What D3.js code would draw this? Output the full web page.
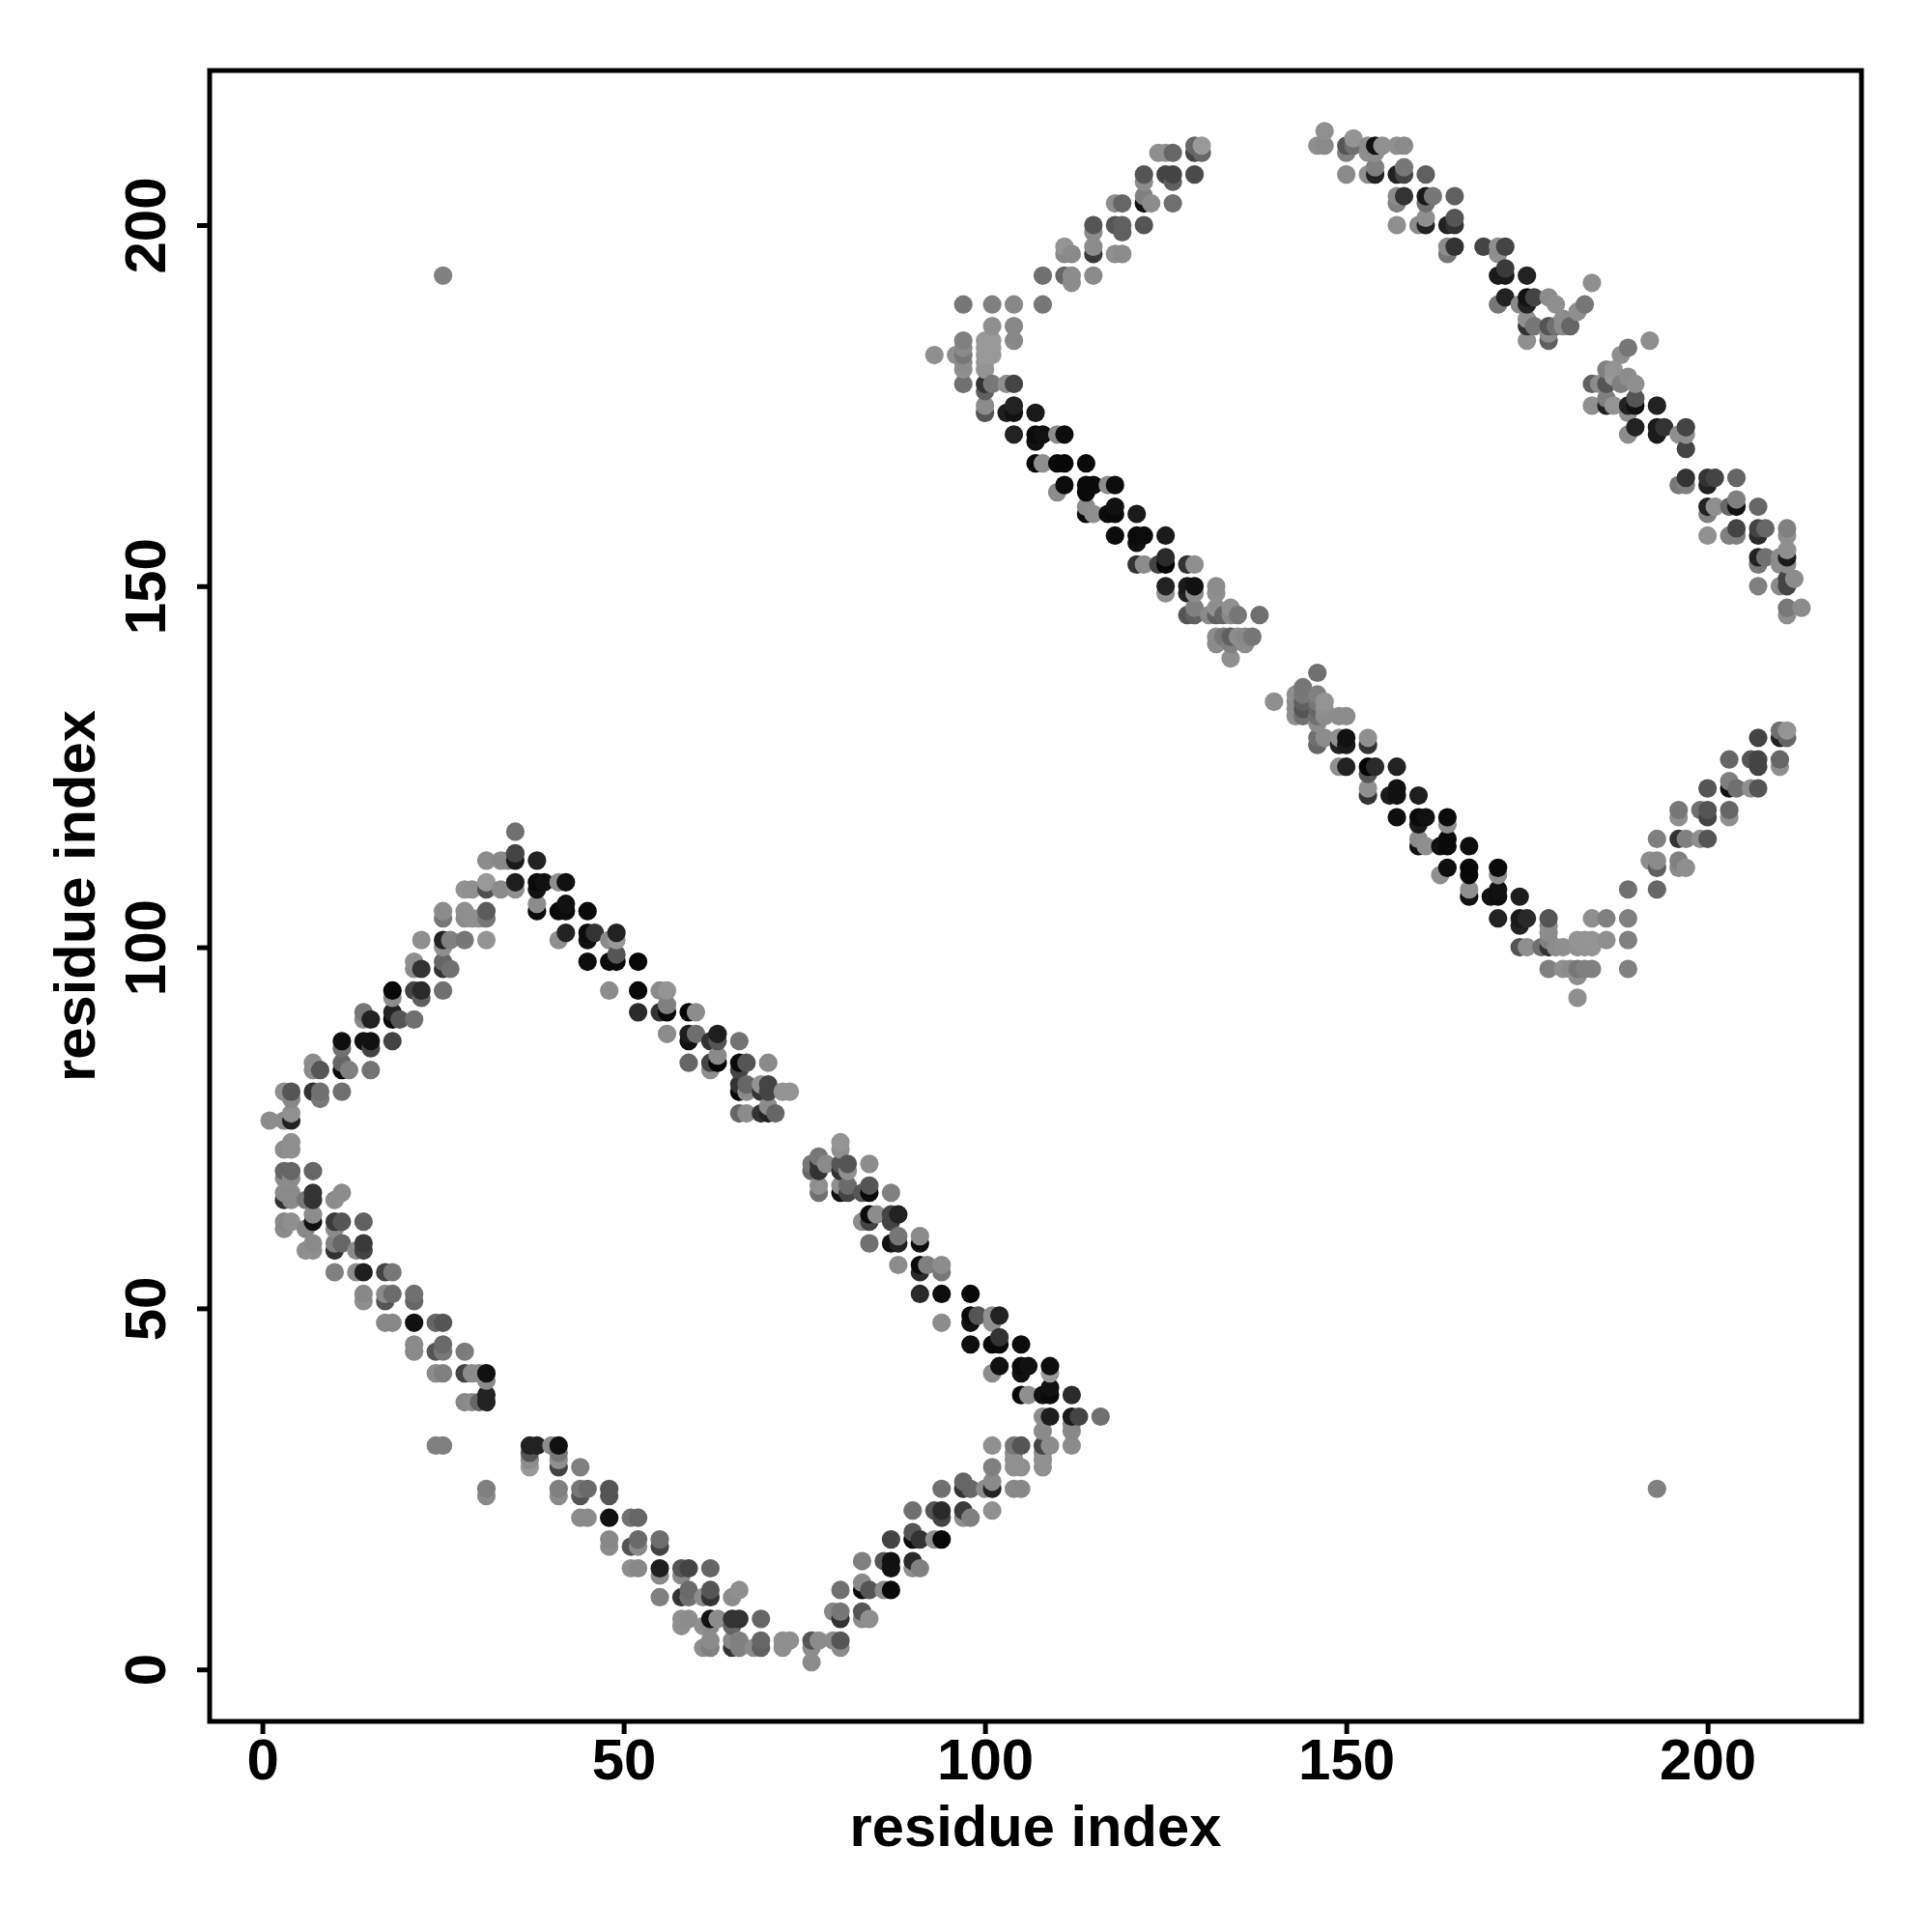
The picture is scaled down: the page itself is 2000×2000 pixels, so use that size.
<!DOCTYPE html>
<html><head><meta charset="utf-8">
<script src="https://cdn.jsdelivr.net/npm/d3@7/dist/d3.min.js"></script>
<style>html,body{margin:0;padding:0;background:#fff}svg{display:block}text{font-family:"Liberation Sans",Arial,sans-serif;font-weight:700;fill:#000}</style>
</head><body><svg id="c" width="2000" height="2000"></svg>
<script>
// each contact: [residue x, residue y, grey level 0-255]
const contactsLowerLeftTop = [[35,116,112],[35,113,68],[31,112,140],[33,112,136],[34,112,136],[35,112,26],[38,112,34],[35,109,30],[38,109,10],[39,109,17],[31,109,153],[28,108,147],[29,108,144],[31,108,80],[33,108,138],[35,108,143],[38,108,17],[25,105,140],[28,105,143],[31,105,92],[38,106,140],[38,105,10],[25,104,119],[28,104,140],[29,104,143],[30,104,143],[31,104,119],[22,101,143],[25,101,34],[26,101,128],[28,101,119],[31,101,147],[25,100,143],[21,98,143],[25,98,102],[21,97,138],[22,97,51],[25,97,51],[26,97,112],[18,94,8],[21,94,68],[22,94,42],[25,94,112],[18,93,140],[22,93,96],[14,91,119],[18,91,34],[14,90,138],[15,90,34],[18,90,8],[19,90,85],[21,90,112],[11,87,14],[14,87,17],[15,87,17],[18,87,68],[11,86,112],[15,86,68],[7,84,140],[11,84,102],[7,83,138],[8,83,85],[11,83,10],[12,83,128],[15,83,115],[3,80,144],[4,80,85],[7,80,51],[8,80,112],[11,80,112],[4,79,136],[8,79,119],[1,76,140],[3,76,140],[4,77,144],[4,76,34]];
const contactsLowerLeftRight = [[41,109,143],[42,109,17],[42,106,17],[41,105,10],[42,105,12],[45,105,10],[42,102,34],[45,102,12],[46,102,51],[49,102,34],[41,101,143],[45,101,17],[48,101,140],[49,101,153],[49,99,85],[45,98,14],[48,98,10],[49,98,10],[52,98,8],[48,94,140],[52,94,10],[55,94,138],[56,94,148],[56,92,128],[52,91,42],[55,91,51],[56,91,10],[59,91,5],[60,91,140],[56,88,140],[59,88,30],[60,88,110],[63,88,30],[59,87,17],[62,87,51],[63,87,85],[66,87,115],[63,85,138],[59,84,102],[62,84,68],[63,84,5],[66,84,10],[67,84,85],[70,84,138],[62,83,143],[66,83,68],[66,81,51],[67,81,102],[69,81,148],[70,81,68],[66,80,10],[67,80,140],[69,80,51],[70,80,68],[72,80,147],[73,80,147],[66,77,102],[67,77,140],[69,77,51],[70,78,140],[70,77,34],[71,77,102]];
const contactsLowerLeftBottom = [[3,72,140],[4,72,143],[4,73,143],[3,69,102],[4,69,102],[7,69,102],[3,68,140],[4,68,140],[3,66,138],[4,66,138],[7,66,51],[11,66,140],[3,65,51],[4,65,138],[6,65,119],[7,65,51],[10,65,140],[3,62,136],[4,62,143],[7,63,140],[7,62,17],[10,62,58],[11,62,85],[14,62,96],[3,61,140],[6,61,136],[10,61,138],[7,59,138],[10,59,128],[11,59,102],[14,59,58],[6,58,143],[7,58,143],[10,58,51],[13,58,138],[14,58,68],[10,55,128],[13,55,140],[14,55,30],[17,55,68],[18,55,119],[14,52,136],[17,52,138],[18,52,108],[21,52,112],[14,51,143],[17,51,85],[21,51,102],[17,48,136],[18,48,136],[21,48,17],[24,48,102],[25,48,85],[21,45,138],[25,45,106],[21,44,138],[24,44,85],[25,44,119],[28,44,124],[24,41,140],[25,41,128],[28,41,68],[29,41,140],[30,41,138],[31,41,17],[31,40,138],[31,38,34],[28,37,136],[29,37,140],[30,37,102],[31,37,34],[24,31,128],[25,31,128]];
const contactsBottomLeft = [[37,31,34],[38,31,34],[40,31,140],[41,31,17],[37,30,85],[41,30,119],[37,29,140],[41,29,143],[37,28,153],[41,28,68],[44,28,128],[31,25,128],[41,25,128],[44,25,119],[45,25,106],[48,25,85],[31,24,138],[41,24,140],[44,24,85],[48,24,85],[44,21,138],[45,21,138],[48,21,17],[51,21,112],[52,21,102],[48,18,136],[52,18,106],[55,18,110],[48,17,140],[51,17,85],[52,17,138],[55,17,68],[51,14,143],[52,14,136],[55,14,30],[58,14,85],[59,14,68],[62,14,102],[55,13,138],[58,13,138],[59,11,106],[62,11,85],[66,11,143],[55,10,128],[58,10,51],[59,10,112],[61,10,140],[62,10,51],[65,10,140],[58,7,143],[59,7,140],[62,7,17],[63,7,140],[65,7,51],[66,7,51],[69,7,102],[58,6,143],[61,6,143],[62,6,138],[65,6,102],[62,4,138],[65,4,136],[66,4,128],[69,4,102],[61,3,140],[62,3,128],[65,3,51],[66,3,128],[68,3,140],[69,3,96]];
const contactsBottomRight = [[72,4,143],[73,4,143],[76,4,85],[77,4,140],[79,4,140],[80,4,85],[72,3,143],[76,3,140],[80,3,140],[76,1,140],[79,8,136],[80,8,119],[80,7,51],[83,8,85],[83,7,140],[84,7,143],[80,11,112],[83,12,138],[83,11,10],[84,11,85],[86,11,138],[87,11,8],[83,15,128],[86,15,85],[87,15,17],[90,15,42],[87,14,17],[90,14,143],[91,14,128],[87,18,68],[90,19,85],[90,18,10],[91,18,51],[93,18,143],[94,18,8],[90,22,112],[93,22,85],[94,22,42],[97,22,58],[101,22,144],[94,21,68],[97,21,143],[98,21,128],[94,25,112],[97,26,102],[97,25,51],[98,25,102],[100,25,140],[101,26,138],[101,25,34],[104,25,136],[105,25,136],[101,28,128],[104,28,144],[105,28,144],[108,28,144],[104,29,144],[108,29,144],[104,30,144],[108,30,144],[101,31,144],[104,31,119],[105,31,85],[108,31,68],[109,31,140],[108,33,138],[108,35,140],[109,35,30],[105,38,10],[106,38,143],[108,38,17],[109,38,10],[112,38,42],[112,35,26],[113,35,68],[116,35,112],[112,34,136],[112,33,136],[112,31,140]];
const contactsLowerMiddle = [[80,73,148],[80,72,143],[77,71,119],[76,70,119],[77,70,51],[78,70,138],[80,70,85],[81,70,85],[84,70,140],[76,69,102],[77,69,51],[80,69,51],[81,69,143],[77,67,144],[80,67,143],[81,67,106],[84,67,85],[77,66,112],[80,66,17],[81,66,68],[83,66,85],[84,66,10],[87,66,128],[84,63,10],[85,63,140],[87,63,68],[88,63,34],[83,62,140],[84,62,68],[87,62,68],[88,60,119],[91,60,138],[84,59,112],[87,59,17],[88,59,34],[91,59,12],[88,56,140],[91,56,10],[92,56,128],[94,56,140],[91,55,42],[94,55,119],[91,52,42],[94,52,14],[98,52,8],[98,49,10],[99,49,85],[101,49,144],[102,49,34],[94,48,140],[98,48,17],[101,48,143],[102,46,51],[98,45,14],[101,45,10],[102,45,10],[105,45,12],[102,42,17],[105,42,10],[106,42,17],[109,42,14],[101,41,140],[105,41,17],[109,41,153],[109,39,17]];
const contactsUpperLeft = [[129,211,102],[130,211,153],[129,210,68],[130,210,102],[124,210,143],[125,210,143],[126,210,102],[122,207,85],[125,207,68],[126,207,68],[129,207,74],[122,206,140],[126,206,96],[122,204,128],[118,203,143],[119,203,102],[122,203,17],[123,203,140],[126,203,112],[115,200,85],[118,200,85],[119,200,96],[122,200,85],[115,199,140],[119,199,96],[115,197,140],[111,197,148],[111,196,136],[112,196,138],[115,196,58],[118,196,143],[119,196,140],[108,193,112],[111,193,102],[112,193,140],[115,193,138],[112,192,140],[97,189,119],[101,189,128],[104,189,136],[108,189,119],[101,186,143],[104,186,136],[97,184,128],[100,184,153],[101,184,153],[104,184,136],[97,183,138],[100,183,153],[101,183,153],[93,182,143],[96,182,143],[97,182,119],[100,182,153],[101,182,153],[97,181,140],[100,181,148],[97,180,143],[100,180,148],[97,178,112],[100,178,51],[101,178,119],[103,178,143],[104,178,68],[100,177,96],[100,175,140],[104,175,34],[100,174,85],[103,174,30],[104,174,17],[107,174,26],[25,193,128]];
const contactsUpperMiddle = [[104,171,34],[107,171,10],[108,171,17],[110,171,140],[111,171,12],[107,170,17],[107,167,10],[108,167,143],[110,167,10],[111,167,8],[114,167,10],[111,164,12],[114,164,10],[115,164,10],[117,164,140],[118,164,12],[110,163,140],[114,163,10],[114,161,140],[118,161,17],[114,160,10],[115,160,143],[117,160,12],[118,160,10],[121,160,26],[118,157,12],[121,157,10],[122,157,12],[125,157,26],[121,156,17],[121,153,51],[122,153,140],[124,153,68],[125,154,42],[125,153,5],[128,153,51],[129,153,143],[125,150,34],[128,150,26],[129,150,17],[132,150,140],[125,149,143],[128,149,34],[129,149,140],[132,149,143],[129,147,128],[132,147,143],[134,147,143],[128,146,85],[129,146,96],[131,146,138],[132,146,96],[133,146,102],[134,146,136],[135,146,119],[138,146,112],[132,143,140],[133,143,119],[134,143,96],[135,143,140],[136,143,136],[137,143,119],[132,142,140],[134,142,128],[136,142,140],[134,140,143]];
const contactsTopRight = [[147,213,144],[146,211,143],[147,211,138],[150,211,85],[151,212,148],[151,211,112],[153,211,140],[154,211,17],[155,211,144],[157,211,144],[158,211,138],[150,210,128],[153,210,143],[154,210,140],[150,207,138],[153,207,143],[154,207,34],[154,208,128],[157,207,34],[158,207,68],[158,208,119],[161,207,96],[157,204,138],[158,204,51],[161,204,26],[162,204,119],[165,204,96],[157,203,128],[161,203,112],[161,201,143],[165,201,85],[157,200,143],[160,200,138],[161,200,34],[164,200,34],[165,200,51],[164,197,140],[165,197,51],[169,197,68],[171,197,143],[172,197,68],[164,196,119],[171,196,143],[171,193,26],[172,193,26],[175,193,34],[172,194,58],[184,192,143],[172,190,34],[171,189,119],[174,189,138],[175,190,17],[175,189,34],[176,190,68],[178,190,140],[179,189,143],[183,189,119],[182,188,143],[175,187,143],[180,187,140],[175,186,51],[176,186,119],[178,186,85],[179,186,112],[180,186,140],[181,186,102],[178,185,140],[175,184,143],[178,184,96]];
const contactsRightEdge = [[192,184,143],[189,183,119],[188,182,143],[186,180,128],[187,180,148],[187,179,153],[189,179,140],[184,178,96],[185,178,140],[186,178,85],[188,178,128],[190,178,143],[186,176,128],[190,176,85],[184,175,144],[186,175,34],[187,175,148],[189,175,34],[190,175,17],[193,175,34],[189,174,143],[190,172,34],[193,172,26],[194,172,51],[197,172,68],[189,171,140],[193,171,26],[196,171,143],[197,171,143],[197,169,68],[197,165,51],[200,165,51],[201,165,68],[204,165,102],[196,164,119],[197,164,128],[200,164,34],[200,161,34],[201,161,143],[203,161,102],[204,161,17],[207,161,102],[204,162,128],[200,160,128],[204,158,68],[207,158,68],[208,158,102],[211,158,128],[200,157,144],[203,157,128],[204,157,128],[207,157,42],[211,157,143],[207,154,34],[208,154,112],[210,154,140],[211,154,26],[211,155,143],[207,153,119],[210,153,140],[211,153,140],[211,151,68],[212,151,140],[207,150,128],[210,150,138],[211,150,68],[211,147,119],[213,147,140],[211,146,143]];
const contactsMiddleRight = [[146,138,112],[144,136,119],[143,135,143],[144,135,119],[146,135,128],[140,134,143],[143,134,140],[144,134,96],[146,134,119],[147,134,148],[143,133,140],[144,133,85],[146,133,102],[147,133,143],[143,132,143],[144,132,112],[146,132,112],[147,132,140],[149,132,140],[150,132,140],[146,131,140],[146,129,112],[147,129,140],[149,129,143],[150,129,17],[153,129,143],[146,128,102],[149,128,34],[150,128,26],[153,128,51],[149,125,143],[150,125,34],[153,125,5],[154,125,42],[157,125,34],[153,124,85],[153,122,143],[157,122,17],[153,121,51],[156,121,26],[157,121,17],[160,121,30],[157,118,14],[160,118,10],[161,118,17],[164,118,10],[160,117,26],[164,117,140],[160,115,140],[164,115,10],[160,114,17],[161,114,143],[163,114,17],[164,114,10],[167,114,14],[164,111,14],[167,111,8],[171,111,10],[163,110,143],[167,110,10],[171,110,143],[167,108,143],[171,108,17],[167,107,17],[170,107,17],[171,107,14],[174,107,30],[171,104,34],[174,104,26],[175,104,42],[178,104,85],[174,103,34],[178,103,140],[178,102,140],[174,100,85],[175,100,143],[177,100,112],[178,101,128],[178,100,51],[179,100,140],[180,100,143],[178,97,128],[180,97,144]];
const contactsLowerRight = [[210,130,112],[211,130,148],[207,129,68],[210,129,34],[211,129,102],[203,126,102],[206,126,85],[207,126,68],[210,126,102],[207,125,68],[210,125,143],[203,123,128],[200,122,85],[203,122,17],[204,122,112],[206,122,143],[207,122,85],[196,119,119],[199,119,112],[200,119,85],[203,119,102],[196,118,143],[200,118,68],[203,118,143],[193,115,128],[196,115,51],[197,115,128],[199,115,143],[200,115,85],[192,112,143],[193,112,138],[196,112,128],[193,111,96],[196,111,138],[197,111,143],[189,108,112],[193,108,102],[184,104,143],[186,104,128],[189,104,128],[186,101,143],[189,101,128],[182,101,148],[183,101,148],[184,101,148],[182,100,144],[183,100,148],[184,100,148],[181,97,140],[182,97,119],[183,97,128],[184,97,128],[189,97,128],[182,96,143],[182,93,143],[193,25,128]];
const tickValues = [0,50,100,150,200];
const axisTitle = "residue index";

const contacts = [contactsLowerLeftTop,contactsLowerLeftRight,contactsLowerLeftBottom,contactsBottomLeft,contactsBottomRight,contactsLowerMiddle,contactsUpperLeft,contactsUpperMiddle,contactsTopRight,contactsRightEdge,contactsMiddleRight,contactsLowerRight]
  .flat().sort((a,b)=>d3.ascending(a[0],b[0])||d3.ascending(a[1],b[1]));

const L=217,R=1927,T=73,B=1782;
const x=d3.scaleLinear().domain([-7.3,221.3]).range([L,R]);
const y=d3.scaleLinear().domain([-7.2,221.4]).range([B,T]);
const grey=d3.scaleLinear().domain([0,255]).range(["#000000","#ffffff"]);
const svg=d3.select("#c");
svg.append("rect").attr("width",2000).attr("height",2000).attr("fill","#fff");

svg.append("g").selectAll("circle").data(contacts).join("circle")
  .attr("cx",d=>x(d[0])).attr("cy",d=>y(d[1])).attr("r",9.6).attr("fill",d=>grey(d[2]));

const ax=svg.append("g").attr("transform",`translate(0,${B})`)
  .call(d3.axisBottom(x).tickValues(tickValues).tickSize(13).tickPadding(0).tickFormat(d3.format("d")));
const ay=svg.append("g").attr("transform",`translate(${L},0)`)
  .call(d3.axisLeft(y).tickValues(tickValues).tickSize(13).tickFormat(d3.format("d")));
[ax,ay].forEach(g=>{g.select(".domain").remove();g.selectAll("line").attr("stroke","#000").attr("stroke-width",5);
  g.selectAll("text").attr("font-size",60).attr("font-family",'"Liberation Sans",Arial,sans-serif').attr("font-weight",700).attr("fill","#000");});
ax.selectAll("text").attr("y",0).attr("dy",null).attr("transform","translate(0,60)").attr("text-anchor","middle");
ay.selectAll("text").attr("x",0).attr("dy",null).attr("text-anchor","middle").attr("transform","translate(-46,0) rotate(-90)");

svg.append("rect").attr("x",L).attr("y",T).attr("width",R-L).attr("height",B-T)
  .attr("fill","none").attr("stroke","#000").attr("stroke-width",5);

svg.append("text").attr("x",(L+R)/2).attr("y",1911).attr("text-anchor","middle").attr("font-size",59.7).text(axisTitle);
svg.append("text").attr("transform",`translate(98,${(T+B)/2}) rotate(-90)`).attr("text-anchor","middle").attr("font-size",59.7).text(axisTitle);
</script></body></html>
